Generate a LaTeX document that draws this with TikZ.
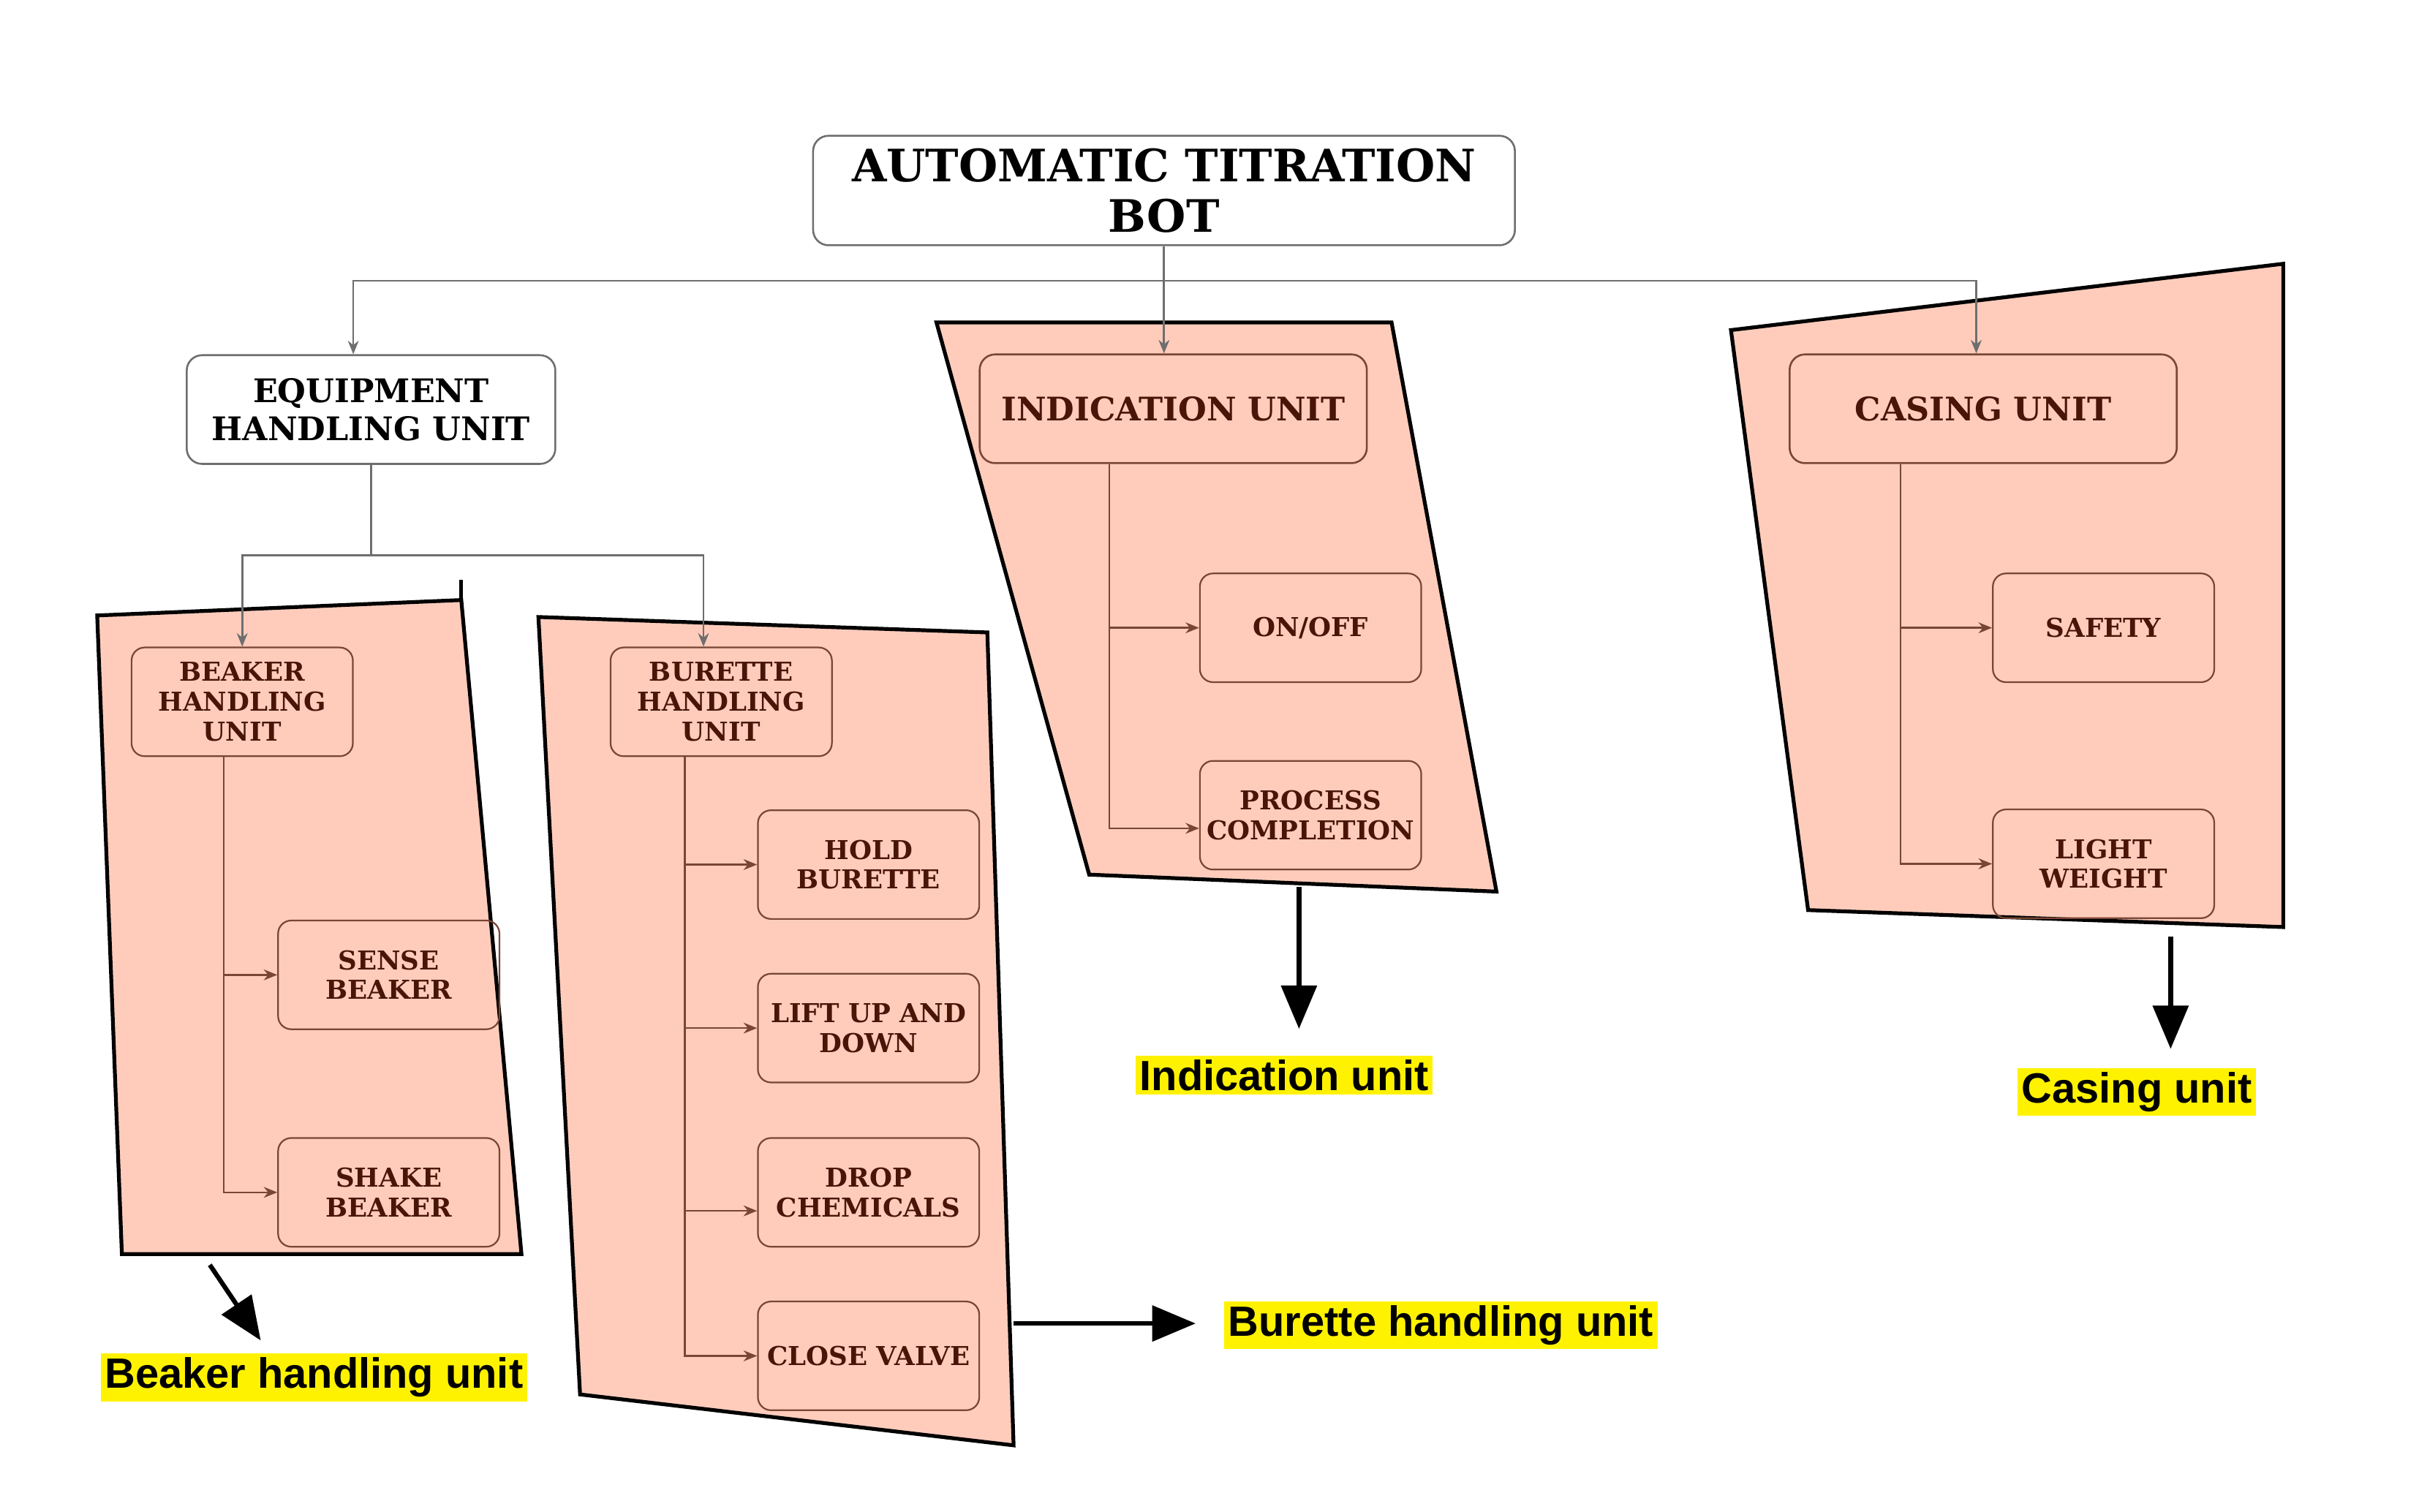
\documentclass[tikz,border=0pt]{standalone}
\usepackage{fontspec}
\newfontfamily\boxfont{DejaVu Serif}
\newfontfamily\labfont{Liberation Sans}
\usetikzlibrary{arrows.meta}
\definecolor{salmon}{HTML}{FFCCBC}
\definecolor{browntext}{HTML}{4A1508}
\definecolor{brownline}{HTML}{7A4535}
\definecolor{grayline}{HTML}{6E6E6E}
\begin{document}
\begin{tikzpicture}[x=0.02cm,y=-0.02cm,
  poly/.style={draw=black,line width=1.4pt,fill=salmon,line join=miter},
  titlebox/.style={draw=grayline,line width=0.7pt,rounded corners=0.2cm,fill=white,
    minimum width=9.1cm,minimum height=1.42cm,align=center,inner sep=0pt,
    font=\boxfont\bfseries\fontsize{16.5}{18.7}\selectfont},
  levelbox/.style={line width=0.7pt,rounded corners=0.2cm,minimum height=1.41cm,
    align=center,inner sep=0pt,font=\boxfont\bfseries\fontsize{12}{14.2}\selectfont},
  inbox/.style={draw=brownline,line width=0.6pt,rounded corners=0.17cm,
    minimum width=2.87cm,minimum height=1.41cm,align=center,inner sep=0pt,
    text=browntext,font=\boxfont\bfseries\fontsize{9.6}{11}\selectfont},
  topline/.style={draw=grayline,line width=0.7pt},
  toparrow/.style={topline,-{Stealth[length=5pt,width=4pt]}},
  inline/.style={draw=brownline,line width=0.7pt},
  inarrow/.style={inline,-{Stealth[length=5pt,width=4pt]}},
  bigarrow/.style={line width=1.7pt,-{Triangle[length=16pt,width=13pt]}},
  lab/.style={fill=yellow,inner sep=1.5pt,font=\labfont\bfseries\fontsize{15.6}{18}\selectfont}
]
\useasboundingbox (0,0) rectangle (1568,979.8);

% shaded groups
\draw[poly] (63,399) -- (299,389) -- (338,813) -- (79,813) -- cycle;
\draw[line width=1.4pt] (299,376) -- (299,389);
\draw[poly] (349,400) -- (640,410) -- (657,937) -- (376,904) -- cycle;
\draw[poly] (607,209) -- (902,209) -- (970,578) -- (706,567) -- cycle;
\draw[poly] (1122,214) -- (1480,171) -- (1480,601) -- (1172,590) -- cycle;

% boxes
\node[titlebox] (title) at (754.5,123.5) {AUTOMATIC TITRATION\\BOT};
\node[levelbox,draw=grayline,fill=white,text=black,minimum width=4.78cm] (equip) at (240.5,265.5) {EQUIPMENT\\HANDLING UNIT};
\node[levelbox,draw=brownline,text=browntext,minimum width=5.02cm] (ind) at (760.5,265) {INDICATION UNIT};
\node[levelbox,draw=brownline,text=browntext,minimum width=5.02cm] (cas) at (1285.5,265) {CASING UNIT};

\node[inbox] (beak) at (157,455) {BEAKER\\HANDLING\\UNIT};
\node[inbox] (sense) at (252,632) {SENSE\\BEAKER};
\node[inbox] (shake) at (252,773) {SHAKE\\BEAKER};

\node[inbox] (bur) at (467.5,455) {BURETTE\\HANDLING\\UNIT};
\node[inbox] (hold) at (563,560.5) {HOLD\\BURETTE};
\node[inbox] (lift) at (563,666.5) {LIFT UP AND\\DOWN};
\node[inbox] (drop) at (563,773) {DROP\\CHEMICALS};
\node[inbox] (close) at (563,879) {CLOSE VALVE};

\node[inbox] (onoff) at (849.5,407) {ON/OFF};
\node[inbox] (proc) at (849.5,528.5) {PROCESS\\COMPLETION};

\node[inbox] (safe) at (1363.5,407) {SAFETY};
\node[inbox] (light) at (1363.5,560) {LIGHT\\WEIGHT};

% top-level connectors
\coordinate (hy) at (0,182);
\coordinate (ey) at (0,360);
\draw[toparrow] (title.south) -- (title.south |- ind.north);
\draw[toparrow] (title.south |- hy) -| ([xshift=-0.23cm]equip.north);
\draw[toparrow] (title.south |- hy) -| ([xshift=-0.09cm]cas.north);
\draw[topline] (equip.south) -- (equip.south |- ey);
\draw[toparrow] (equip.south |- ey) -| (beak.north);
\draw[toparrow] (equip.south |- ey) -| ([xshift=-0.23cm]bur.north);

% inner connectors
\draw[inarrow] ([xshift=-0.24cm]beak.south) |- (sense.west);
\draw[inarrow] ([xshift=-0.24cm]beak.south) |- (shake.west);
\draw[inarrow] ([xshift=-0.47cm]bur.south) |- (hold.west);
\draw[inarrow] ([xshift=-0.47cm]bur.south) |- (lift.west);
\draw[inarrow] ([xshift=-0.47cm]bur.south) |- ([yshift=-0.24cm]drop.west);
\draw[inarrow] ([xshift=-0.47cm]bur.south) |- (close.west);
\draw[inarrow] ([xshift=-0.83cm]ind.south) |- (onoff.west);
\draw[inarrow] ([xshift=-0.83cm]ind.south) |- ([yshift=-0.17cm]proc.west);
\draw[inarrow] ([xshift=-1.07cm]cas.south) |- (safe.west);
\draw[inarrow] ([xshift=-1.07cm]cas.south) |- (light.west);

% labels
\node[lab] (lind) at (832.5,697) {Indication unit};
\node[lab] (lcas) at (1385,708) {Casing unit};
\node[lab] (lbeak) at (203.5,893) {Beaker handling unit};
\node[lab] (lbur) at (934,859) {Burette handling unit};

\coordinate (ais) at (842,575);
\coordinate (aie) at (842,667);
\coordinate (acs) at (1407,607);
\coordinate (ace) at (1407,680);
\coordinate (abs) at (136,820);
\coordinate (abe) at (169,869);
\coordinate (aus) at (657,858);
\coordinate (aue) at (775,858);
\draw[bigarrow] (ais) -- (aie);
\draw[bigarrow] (acs) -- (ace);
\draw[bigarrow] (abs) -- (abe);
\draw[bigarrow] (aus) -- (aue);
\end{tikzpicture}
\end{document}
